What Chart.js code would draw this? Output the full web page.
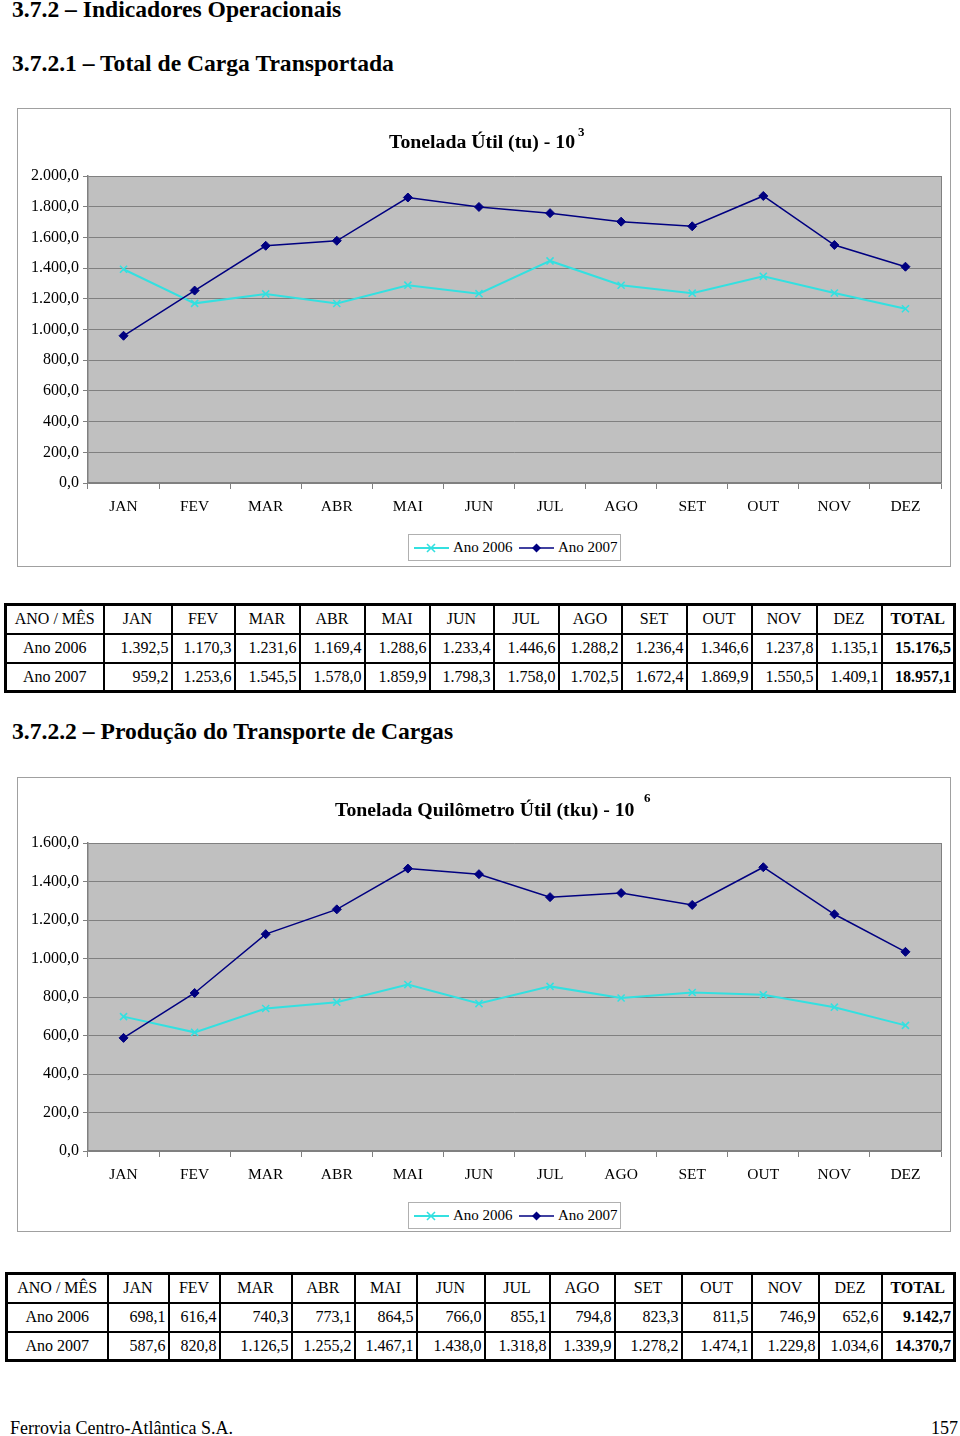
<!DOCTYPE html>
<html><head><meta charset="utf-8">
<script src="https://cdn.jsdelivr.net/npm/chart.js@4.4.1/dist/chart.umd.min.js"></script>
<style>
html,body{margin:0;padding:0;background:#fff;}
body{width:960px;height:1436px;position:relative;overflow:hidden;font-family:'Liberation Serif','Times New Roman',serif;color:#000;}
.h{position:absolute;left:12px;font-weight:bold;font-size:23.6px;line-height:24px;white-space:nowrap;}
.frame{position:absolute;left:17px;width:932px;border:1px solid #a0a0a0;background:#fff;}
canvas{position:absolute;left:17px;}
.title{position:absolute;font-weight:bold;font-size:19.8px;line-height:20px;white-space:nowrap;}
.sup{position:absolute;font-weight:bold;font-size:13px;line-height:13px;}
.legend{position:absolute;left:408px;width:211px;height:25px;border:1px solid #b0b0b0;background:#fff;font-size:15px;}
.legend svg{position:absolute;left:0;top:0;}
.legend span{position:absolute;top:4px;line-height:17px;}
table{position:absolute;border-collapse:collapse;table-layout:fixed;border:3px solid #000;font-size:16px;}
td{border:2px solid #000;padding:0 2px 0 0;text-align:right;white-space:nowrap;overflow:hidden;}
tr.hd td{text-align:center;padding:0;}
td.first{text-align:center;padding:0;}
td.tot{font-weight:bold;}
.foot{position:absolute;top:1419px;font-size:18px;line-height:18px;}
</style>
</head><body>

<div class="h" style="top:-3px">3.7.2 – Indicadores Operacionais</div>
<div class="h" style="top:51px">3.7.2.1 – Total de Carga Transportada</div>

<div class="frame" style="top:108px;height:457px"></div>
<canvas id="c1" width="934" height="459" style="top:108px"></canvas>
<div class="title" style="left:389px;top:131px">Tonelada Útil (tu) - 10</div>
<div class="sup" style="left:578px;top:125px">3</div>
<div class="legend" style="top:534px">
 <svg width="211" height="25">
  <line x1="5" y1="13" x2="40" y2="13" stroke="#33E0E0" stroke-width="2"/>
  <path d="M18 9 L26 17 M26 9 L18 17" stroke="#33E0E0" stroke-width="1.6"/>
  <line x1="110" y1="13" x2="145" y2="13" stroke="#000080" stroke-width="1.5"/>
  <path d="M127.5 8.5 L132 13 L127.5 17.5 L123 13 Z" fill="#000080"/>
 </svg>
 <span style="left:44px">Ano 2006</span>
 <span style="left:149px">Ano 2007</span>
</div>

<table id="t1" style="left:4px;top:603px;width:950px"></table>

<div class="h" style="top:719px">3.7.2.2 – Produção do Transporte de Cargas</div>

<div class="frame" style="top:777px;height:453px"></div>
<canvas id="c2" width="934" height="455" style="top:777px"></canvas>
<div class="title" style="left:335px;top:799px">Tonelada Quilômetro Útil (tku) - 10</div>
<div class="sup" style="left:644px;top:791px">6</div>
<div class="legend" style="top:1202px">
 <svg width="211" height="25">
  <line x1="5" y1="13" x2="40" y2="13" stroke="#33E0E0" stroke-width="2"/>
  <path d="M18 9 L26 17 M26 9 L18 17" stroke="#33E0E0" stroke-width="1.6"/>
  <line x1="110" y1="13" x2="145" y2="13" stroke="#000080" stroke-width="1.5"/>
  <path d="M127.5 8.5 L132 13 L127.5 17.5 L123 13 Z" fill="#000080"/>
 </svg>
 <span style="left:44px">Ano 2006</span>
 <span style="left:149px">Ano 2007</span>
</div>

<table id="t2" style="left:5px;top:1272px;width:948px"></table>

<div class="foot" style="left:10px">Ferrovia Centro-Atlântica S.A.</div>
<div class="foot" style="right:2px">157</div>

<script>
const months = ['JAN','FEV','MAR','ABR','MAI','JUN','JUL','AGO','SET','OUT','NOV','DEZ'];
const tu2006 = [1392.5,1170.3,1231.6,1169.4,1288.6,1233.4,1446.6,1288.2,1236.4,1346.6,1237.8,1135.1];
const tu2007 = [959.2,1253.6,1545.5,1578.0,1859.9,1798.3,1758.0,1702.5,1672.4,1869.9,1550.5,1409.1];
const tuTotals = [15176.5, 18957.1];
const tku2006 = [698.1,616.4,740.3,773.1,864.5,766.0,855.1,794.8,823.3,811.5,746.9,652.6];
const tku2007 = [587.6,820.8,1126.5,1255.2,1467.1,1438.0,1318.8,1339.9,1278.2,1474.1,1229.8,1034.6];
const tkuTotals = [9142.7, 14370.7];
const seriesNames = ['Ano 2006','Ano 2007'];
const tuMax = 2000, tkuMax = 1600, tickStep = 200;

function fmt(v){
  const s = Math.abs(v).toFixed(1);
  let [ip, dp] = s.split('.');
  ip = ip.replace(/\B(?=(\d{3})+(?!\d))/g, '.');
  return (v<0?'-':'') + ip + ',' + dp;
}

function buildTable(id, widths, rows, totals){
  const t = document.getElementById(id);
  let h = '<colgroup>' + widths.map(w=>'<col style="width:'+w+'px">').join('') + '</colgroup>';
  h += '<tr class="hd" style="height:29px"><td>ANO / MÊS</td>' + months.map(m=>'<td>'+m+'</td>').join('') + '<td style="font-weight:bold">TOTAL</td></tr>';
  rows.forEach((r,i)=>{
    h += '<tr style="height:29px"><td class="first">'+seriesNames[i]+'</td>' + r.map(v=>'<td>'+fmt(v)+'</td>').join('') + '<td class="tot">'+fmt(totals[i])+'</td></tr>';
  });
  t.innerHTML = h;
}
buildTable('t1',[98,68,63,65,65,65,64,65,63,65,65,65,65,73],[tu2006,tu2007],tuTotals);
buildTable('t2',[101,61,51,72,63,62,68,65,65,67,70,67,63,73],[tku2006,tku2007],tkuTotals);

Chart.defaults.font.family = "'Liberation Serif','Times New Roman',serif";
Chart.defaults.font.size = 15;
Chart.defaults.color = '#000';

const plotBg = {
  id:'plotBg',
  beforeDraw(chart){
    const {ctx, chartArea:a} = chart;
    ctx.save();
    ctx.fillStyle = '#C0C0C0';
    ctx.fillRect(a.left, a.top, a.right-a.left, a.bottom-a.top);
    ctx.restore();
  },
  beforeDatasetsDraw(chart){
    const {ctx, chartArea:a} = chart;
    ctx.save();
    ctx.strokeStyle = '#808080';
    ctx.lineWidth = 1;
    ctx.beginPath();
    ctx.moveTo(a.right+0.5, a.top);
    ctx.lineTo(a.right+0.5, a.bottom);
    ctx.stroke();
    ctx.restore();
  }
};

function makeChart(id, d06, d07, max, padTop, padBottom){
  new Chart(document.getElementById(id), {
    type:'line',
    data:{labels:months, datasets:[
      {label:seriesNames[0], data:d06, borderColor:'#33E0E0', backgroundColor:'#33E0E0', borderWidth:2,
       pointStyle:'crossRot', pointRadius:5, pointBorderWidth:1.6, tension:0, order:1},
      {label:seriesNames[1], data:d07, borderColor:'#000080', backgroundColor:'#000080', borderWidth:1.5,
       pointStyle:'rectRot', pointRadius:4.5, pointBorderWidth:1, tension:0, order:0}
    ]},
    options:{
      responsive:false, animation:false, devicePixelRatio:1,
      layout:{padding:{top:padTop, right:10, bottom:padBottom, left:0}},
      plugins:{legend:{display:false}, tooltip:{enabled:false}, title:{display:false}},
      scales:{
        x:{offset:true,
           grid:{offset:true, drawOnChartArea:false, tickLength:6, color:'#808080'},
           border:{color:'#808080', width:1.5},
           ticks:{padding:9, color:'#000', font:{size:15.5}},
           afterFit(s){ s.height = 40; }},
        y:{min:0, max:max,
           ticks:{stepSize:tickStep, callback:v=>fmt(v), padding:4, color:'#000', font:{size:16}},
           grid:{color:'#808080', tickLength:5, lineWidth:1},
           border:{color:'#808080', width:1.5},
           afterFit(s){ s.width = 71; }}
      }
    },
    plugins:[plotBg]
  });
}
makeChart('c1', tu2006, tu2007, tuMax, 68, 44);
makeChart('c2', tku2006, tku2007, tkuMax, 66, 41);
</script>
</body></html>
